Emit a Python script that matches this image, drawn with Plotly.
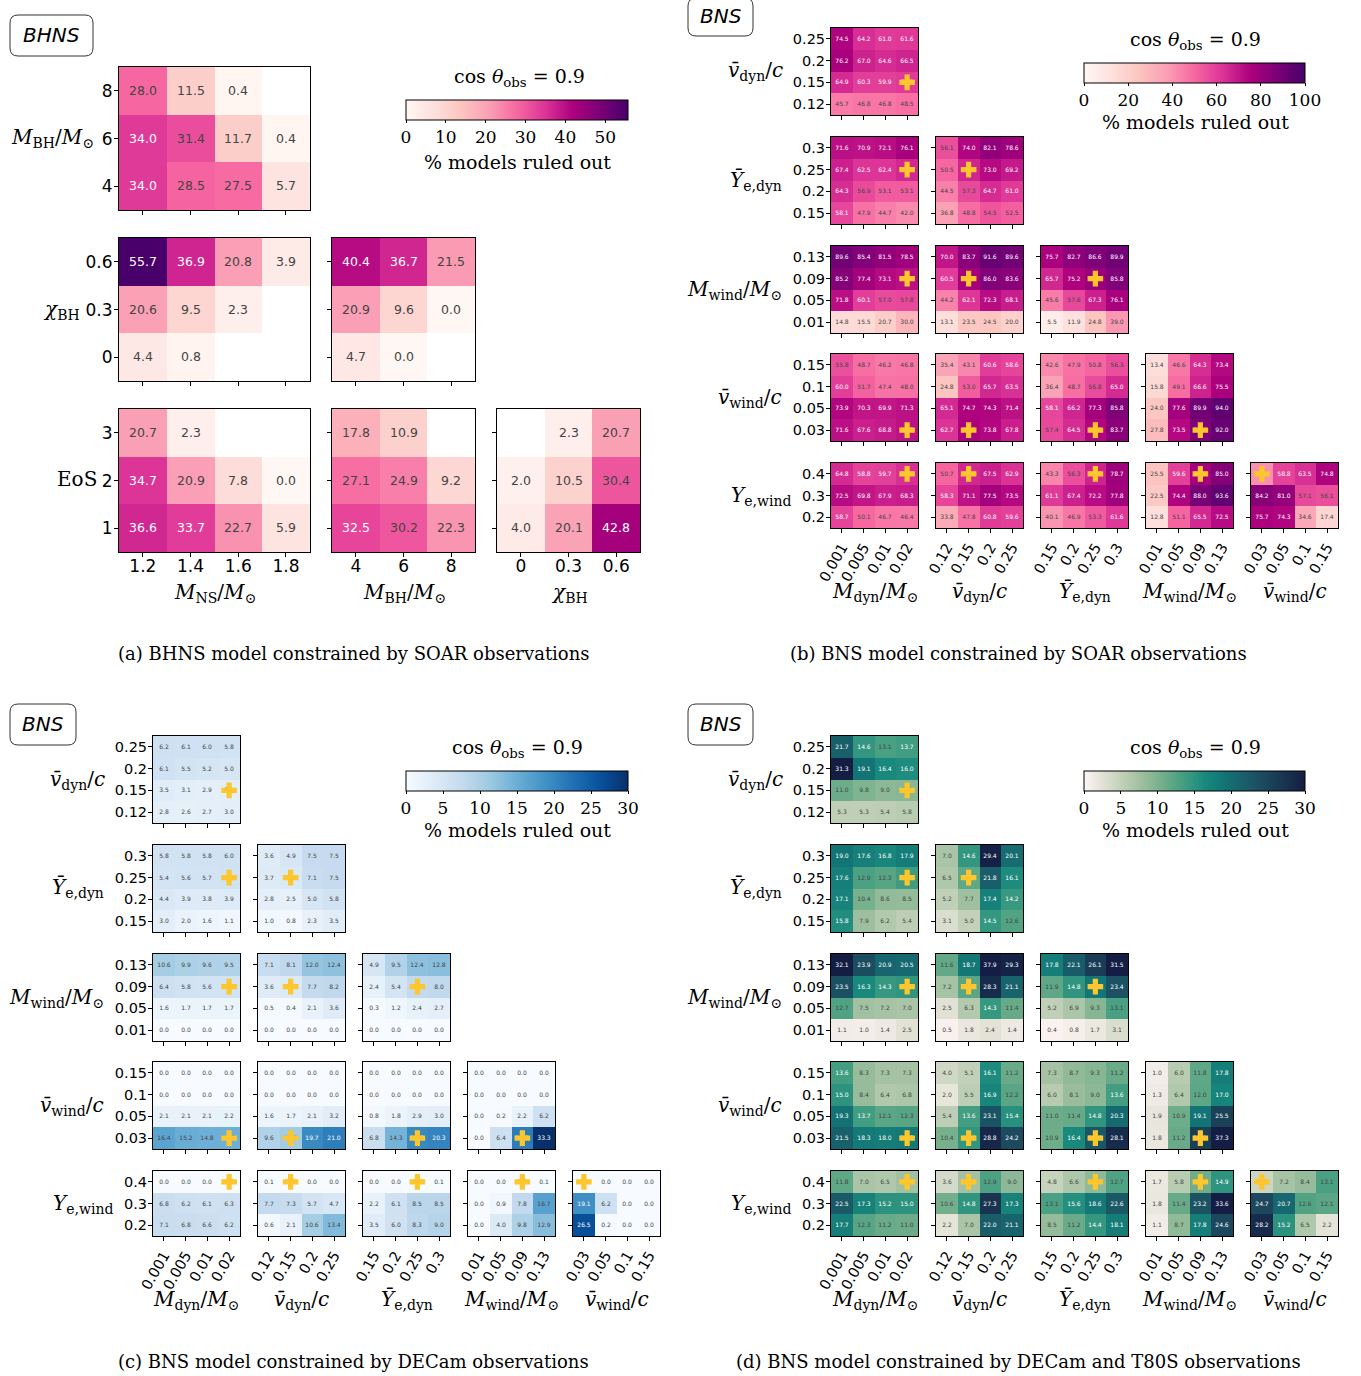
import plotly.graph_objects as go

W, H = 1361, 1376
N = None

# ---------------- Panel (a): BHNS, SOAR ----------------
A_MNS = ["1.2", "1.4", "1.6", "1.8"]
A_MBH = ["4", "6", "8"]
A_CHI = ["0", "0.3", "0.6"]
A_EOS = ["1", "2", "3"]
# matrices: first row = highest y value, columns left -> right
a_mbh_mns = [[28.0, 11.5, 0.4, N], [34.0, 31.4, 11.7, 0.4], [34.0, 28.5, 27.5, 5.7]]
a_chi_mns = [[55.7, 36.9, 20.8, 3.9], [20.6, 9.5, 2.3, N], [4.4, 0.8, N, N]]
a_chi_mbh = [[40.4, 36.7, 21.5], [20.9, 9.6, 0.0], [4.7, 0.0, N]]
a_eos_mns = [[20.7, 2.3, N, N], [34.7, 20.9, 7.8, 0.0], [36.6, 33.7, 22.7, 5.9]]
a_eos_mbh = [[17.8, 10.9, N], [27.1, 24.9, 9.2], [32.5, 30.2, 22.3]]
a_eos_chi = [[N, 2.3, 20.7], [2.0, 10.5, 30.4], [4.0, 20.1, 42.8]]

# ---------------- BNS parameter grids ----------------
T_MDYN = ["0.001", "0.005", "0.01", "0.02"]
T_VDYN = ["0.12", "0.15", "0.2", "0.25"]
T_YEDYN = ["0.15", "0.2", "0.25", "0.3"]
T_MWIND = ["0.01", "0.05", "0.09", "0.13"]
T_VWIND = ["0.03", "0.05", "0.1", "0.15"]
T_YEWIND = ["0.2", "0.3", "0.4"]
FIDUCIAL = ["0.02", "0.15", "0.25", "0.09", "0.03", "0.4"]

# ---------------- Panel (b): BNS, SOAR ----------------
b_vdyn_mdyn = [[74.5, 64.2, 61.0, 61.6], [76.2, 67.0, 64.6, 66.5], [64.9, 60.3, 59.9, 61.2], [45.7, 46.8, 46.8, 48.5]]
b_yedyn_mdyn = [[71.6, 70.9, 72.1, 76.1], [67.4, 62.5, 62.4, 65.7], [64.3, 56.9, 53.1, 53.1], [58.1, 47.9, 44.7, 42.0]]
b_yedyn_vdyn = [[56.1, 74.0, 82.1, 78.6], [50.5, 66.2, 73.0, 69.2], [44.5, 57.3, 64.7, 61.0], [36.8, 48.8, 54.5, 52.5]]
b_mwind_mdyn = [[89.6, 85.4, 81.5, 78.5], [85.2, 77.4, 73.1, 71.5], [71.8, 60.1, 57.0, 57.8], [14.8, 15.5, 20.7, 30.0]]
b_mwind_vdyn = [[70.0, 83.7, 91.6, 89.6], [60.5, 76.9, 86.0, 83.6], [44.2, 62.1, 72.3, 68.1], [13.1, 23.5, 24.5, 20.0]]
b_mwind_yedyn = [[75.7, 82.7, 86.6, 89.9], [65.7, 75.2, 80.4, 85.8], [45.6, 57.6, 67.3, 76.1], [5.5, 11.9, 24.8, 39.0]]
b_vwind_mdyn = [[55.8, 48.7, 46.2, 46.8], [60.0, 51.7, 47.4, 48.0], [73.9, 70.3, 69.9, 71.3], [71.6, 67.6, 68.8, 71.3]]
b_vwind_vdyn = [[35.4, 43.1, 60.6, 58.6], [24.8, 53.0, 65.7, 63.5], [65.1, 74.7, 74.3, 71.4], [62.7, 75.5, 73.8, 67.8]]
b_vwind_yedyn = [[42.6, 47.9, 50.8, 56.3], [36.4, 48.7, 56.8, 65.0], [58.1, 66.2, 77.3, 85.8], [57.4, 64.5, 74.0, 83.7]]
b_vwind_mwind = [[13.4, 46.6, 64.3, 73.4], [15.8, 49.1, 66.6, 75.5], [24.0, 77.6, 89.9, 94.0], [27.8, 73.5, 86.4, 92.0]]
b_yewind_mdyn = [[64.8, 58.8, 59.7, 63.7], [72.5, 69.8, 67.9, 68.3], [58.7, 50.1, 46.7, 46.4]]
b_yewind_vdyn = [[50.7, 65.7, 67.5, 62.9], [58.3, 71.1, 77.5, 73.5], [33.8, 47.8, 60.8, 59.6]]
b_yewind_yedyn = [[43.3, 56.3, 66.6, 78.7], [61.1, 67.4, 72.2, 77.8], [40.1, 46.9, 53.3, 61.6]]
b_yewind_mwind = [[25.5, 59.6, 76.9, 85.0], [22.5, 74.4, 88.0, 93.6], [12.8, 51.1, 65.5, 72.5]]
b_yewind_vwind = [[40.9, 58.8, 63.5, 74.8], [84.2, 81.0, 57.1, 56.1], [75.7, 74.3, 34.6, 17.4]]

# ---------------- Panel (c): BNS, DECam ----------------
c_vdyn_mdyn = [[6.2, 6.1, 6.0, 5.8], [6.1, 5.5, 5.2, 5.0], [3.5, 3.1, 2.9, 3.1], [2.8, 2.6, 2.7, 3.0]]
c_yedyn_mdyn = [[5.8, 5.8, 5.8, 6.0], [5.4, 5.6, 5.7, 5.8], [4.4, 3.9, 3.8, 3.9], [3.0, 2.0, 1.6, 1.1]]
c_yedyn_vdyn = [[3.6, 4.9, 7.5, 7.5], [3.7, 4.3, 7.1, 7.5], [2.8, 2.5, 5.0, 5.8], [1.0, 0.8, 2.3, 3.5]]
c_mwind_mdyn = [[10.6, 9.9, 9.6, 9.5], [6.4, 5.8, 5.6, 5.7], [1.6, 1.7, 1.7, 1.7], [0.0, 0.0, 0.0, 0.0]]
c_mwind_vdyn = [[7.1, 8.1, 12.0, 12.4], [3.6, 4.1, 7.7, 8.2], [0.5, 0.4, 2.1, 3.6], [0.0, 0.0, 0.0, 0.0]]
c_mwind_yedyn = [[4.9, 9.5, 12.4, 12.8], [2.4, 5.4, 7.8, 8.0], [0.3, 1.2, 2.4, 2.7], [0.0, 0.0, 0.0, 0.0]]
c_vwind_mdyn = [[0.0, 0.0, 0.0, 0.0], [0.0, 0.0, 0.0, 0.0], [2.1, 2.1, 2.1, 2.2], [16.4, 15.2, 14.8, 14.8]]
c_vwind_vdyn = [[0.0, 0.0, 0.0, 0.0], [0.0, 0.0, 0.0, 0.0], [1.6, 1.7, 2.1, 3.2], [9.6, 10.8, 19.7, 21.0]]
c_vwind_yedyn = [[0.0, 0.0, 0.0, 0.0], [0.0, 0.0, 0.0, 0.0], [0.8, 1.8, 2.9, 3.0], [6.8, 14.3, 19.8, 20.3]]
c_vwind_mwind = [[0.0, 0.0, 0.0, 0.0], [0.0, 0.0, 0.0, 0.0], [0.0, 0.2, 2.2, 6.2], [0.0, 6.4, 21.3, 33.3]]
c_yewind_mdyn = [[0.0, 0.0, 0.0, 0.1], [6.8, 6.2, 6.1, 6.3], [7.1, 6.8, 6.6, 6.2]]
c_yewind_vdyn = [[0.1, 0.0, 0.0, 0.0], [7.7, 7.3, 5.7, 4.7], [0.6, 2.1, 10.6, 13.4]]
c_yewind_yedyn = [[0.0, 0.0, 0.1, 0.1], [2.2, 6.1, 8.5, 8.5], [3.5, 6.0, 8.3, 9.0]]
c_yewind_mwind = [[0.0, 0.0, 0.0, 0.1], [0.0, 0.9, 7.8, 16.7], [0.0, 4.0, 9.8, 12.9]]
c_yewind_vwind = [[0.1, 0.0, 0.0, 0.0], [19.1, 6.2, 0.0, 0.0], [26.5, 0.2, 0.0, 0.0]]

# ---------------- Panel (d): BNS, DECam + T80S ----------------
d_vdyn_mdyn = [[21.7, 14.6, 13.1, 13.7], [31.3, 19.1, 16.4, 16.0], [11.0, 9.8, 9.0, 9.2], [5.3, 5.3, 5.4, 5.8]]
d_yedyn_mdyn = [[19.0, 17.6, 16.8, 17.9], [17.6, 12.9, 12.3, 13.8], [17.1, 10.4, 8.6, 8.5], [15.8, 7.9, 6.2, 5.4]]
d_yedyn_vdyn = [[7.0, 14.6, 29.4, 20.1], [6.5, 11.8, 21.8, 16.1], [5.2, 7.7, 17.4, 14.2], [3.1, 5.0, 14.5, 12.6]]
d_mwind_mdyn = [[32.1, 23.9, 20.9, 20.5], [23.5, 16.3, 14.3, 14.8], [12.7, 7.5, 7.2, 7.0], [1.1, 1.0, 1.4, 2.5]]
d_mwind_vdyn = [[11.6, 18.7, 37.9, 29.3], [7.2, 12.2, 28.3, 21.1], [2.5, 6.3, 14.3, 11.4], [0.5, 1.8, 2.4, 1.4]]
d_mwind_yedyn = [[17.8, 22.1, 26.1, 31.5], [11.9, 14.8, 18.8, 23.4], [5.2, 6.9, 9.3, 13.1], [0.4, 0.8, 1.7, 3.1]]
d_vwind_mdyn = [[13.6, 8.3, 7.3, 7.3], [15.0, 8.4, 6.4, 6.8], [19.3, 13.7, 12.1, 12.3], [21.5, 18.3, 18.0, 18.3]]
d_vwind_vdyn = [[4.0, 5.1, 16.1, 11.2], [2.0, 5.5, 16.9, 12.2], [5.4, 13.6, 23.1, 15.4], [10.4, 14.7, 28.8, 24.2]]
d_vwind_yedyn = [[7.3, 8.7, 9.3, 11.2], [6.0, 8.1, 9.0, 13.6], [11.0, 11.4, 14.8, 20.3], [10.9, 16.4, 22.7, 28.1]]
d_vwind_mwind = [[1.0, 6.0, 11.8, 17.8], [1.3, 6.4, 12.0, 17.0], [1.9, 10.9, 19.1, 25.5], [1.8, 11.2, 25.9, 37.3]]
d_yewind_mdyn = [[11.8, 7.0, 6.5, 7.5], [22.5, 17.3, 15.2, 15.0], [17.7, 12.3, 11.2, 11.0]]
d_yewind_vdyn = [[3.6, 7.4, 12.9, 9.0], [10.6, 14.8, 27.3, 17.3], [2.2, 7.0, 22.0, 21.1]]
d_yewind_yedyn = [[4.8, 6.6, 8.8, 12.7], [13.1, 15.6, 18.6, 22.6], [8.5, 11.2, 14.4, 18.1]]
d_yewind_mwind = [[1.7, 5.8, 10.8, 14.9], [1.8, 11.4, 23.2, 33.6], [1.1, 8.7, 17.8, 24.6]]
d_yewind_vwind = [[4.2, 7.2, 8.4, 13.1], [24.7, 20.7, 12.6, 12.1], [28.2, 15.2, 6.5, 2.2]]

# ---------------- helpers ----------------
SANS = "DejaVu Sans"
SERIF = "DejaVu Serif"

fig = go.Figure()
axes = {}
count = [0]


def fx(px):
    return px / W


def fy(py):
    return 1 - py / H


def add_block(z_top, xlabels, ylabels, x0, y0, cell, cax, tsize,
              show_x, show_y, tick_size, tickangle=0, plus=None, xstand=0):
    count[0] += 1
    n = count[0]
    nr, nc = len(z_top), len(z_top[0])
    z = z_top[::-1]
    text = [["" if v is None else f"{v:.1f}" for v in row] for row in z]
    xs = list(range(nc))
    ys = list(range(nr))
    xa = "x" if n == 1 else f"x{n}"
    ya = "y" if n == 1 else f"y{n}"
    fig.add_trace(go.Heatmap(
        z=z, x=xs, y=ys, text=text, texttemplate="%{text}",
        textfont=dict(size=tsize, family=SANS), coloraxis=cax,
        xaxis=xa, yaxis=ya, hoverinfo="skip"))
    if plus is not None:
        fig.add_trace(go.Scatter(
            x=[xlabels.index(plus[0])], y=[ylabels.index(plus[1])],
            mode="markers", marker=dict(symbol="cross", size=13, color="#fcc62c"),
            xaxis=xa, yaxis=ya, showlegend=False, hoverinfo="skip"))
    common = dict(showgrid=False, zeroline=False, showline=True, mirror=True,
                  linecolor="black", linewidth=1, ticks="outside", ticklen=4,
                  tickcolor="black", fixedrange=True, automargin=False,
                  tickfont=dict(family=SANS, size=tick_size, color="black"))
    sx = "" if n == 1 else str(n)
    axes["xaxis" + sx] = dict(domain=[fx(x0), fx(x0 + nc * cell)], anchor=ya,
                              range=[-0.5, nc - 0.5], tickvals=xs, ticktext=xlabels,
                              showticklabels=show_x, tickangle=tickangle,
                              ticklabelstandoff=xstand, **common)
    axes["yaxis" + sx] = dict(domain=[fy(y0 + nr * cell), fy(y0)], anchor=xa,
                              range=[-0.5, nr - 0.5], tickvals=ys, ticktext=ylabels,
                              showticklabels=show_y, ticklabelstandoff=-2, **common)


annotations = []
shapes = []


def ann(text, x, y, size, family=SERIF, xanchor="center", yanchor="middle"):
    annotations.append(dict(text=text, x=fx(x), y=fy(y), xref="paper", yref="paper",
                            showarrow=False, xanchor=xanchor, yanchor=yanchor,
                            font=dict(size=size, family=family, color="black")))


def rbox(x0, y0, x1, y1, r=8):
    rx, ry = r / W, r / H
    X0, X1, Y0, Y1 = fx(x0), fx(x1), fy(y1), fy(y0)
    path = (f"M{X0+rx},{Y0} L{X1-rx},{Y0} Q{X1},{Y0} {X1},{Y0+ry} "
            f"L{X1},{Y1-ry} Q{X1},{Y1} {X1-rx},{Y1} L{X0+rx},{Y1} "
            f"Q{X0},{Y1} {X0},{Y1-ry} L{X0},{Y0+ry} Q{X0},{Y0} {X0+rx},{Y0} Z")
    shapes.append(dict(type="path", path=path, xref="paper", yref="paper",
                       line=dict(color="#333333", width=1), fillcolor="white"))


# ---------------- Panel (a) ----------------
CA = 47.7
AX = [119, 332, 497]
AY = [67, 238, 409]
add_block(a_mbh_mns, A_MNS, A_MBH, AX[0], AY[0], CA, "coloraxis", 12.5, False, True, 17)
add_block(a_chi_mns, A_MNS, A_CHI, AX[0], AY[1], CA, "coloraxis", 12.5, False, True, 17)
add_block(a_chi_mbh, A_MBH, A_CHI, AX[1], AY[1], CA, "coloraxis", 12.5, False, False, 17)
add_block(a_eos_mns, A_MNS, A_EOS, AX[0], AY[2], CA, "coloraxis", 12.5, True, True, 17, xstand=-6)
add_block(a_eos_mbh, A_MBH, A_EOS, AX[1], AY[2], CA, "coloraxis", 12.5, True, False, 17, xstand=-6)
add_block(a_eos_chi, A_CHI, A_EOS, AX[2], AY[2], CA, "coloraxis", 12.5, True, False, 17, xstand=-6)

ann("<i>M</i><sub>BH</sub>/<i>M</i><sub>⊙</sub>", 52, 138, 20)
ann("<i>χ</i><sub>BH</sub>", 61, 310, 20)
ann("EoS", 77, 479, 20)
ann("<i>M</i><sub>NS</sub>/<i>M</i><sub>⊙</sub>", 215, 593, 20)
ann("<i>M</i><sub>BH</sub>/<i>M</i><sub>⊙</sub>", 404, 593, 20)
ann("<i>χ</i><sub>BH</sub>", 569, 593, 20)
ann("cos <i>θ</i><sub>obs</sub> = 0.9", 519, 78, 19)
ann("% models ruled out", 517, 162, 19)
rbox(10, 15, 93, 56)
ann("<i>BHNS</i>", 51, 35, 20, family=SANS)
ann("(a) BHNS model constrained by SOAR observations", 354, 653, 18)

# ---------------- BNS corner panels ----------------
TICKS = [T_MDYN, T_VDYN, T_YEDYN, T_MWIND, T_VWIND, T_YEWIND]
YTITLES = ["", "<i>v̄</i><sub>dyn</sub>/<i>c</i>", "<i>Ȳ</i><sub>e,dyn</sub>",
           "<i>M</i><sub>wind</sub>/<i>M</i><sub>⊙</sub>", "<i>v̄</i><sub>wind</sub>/<i>c</i>",
           "<i>Y</i><sub>e,wind</sub>"]
XTITLES = ["<i>M</i><sub>dyn</sub>/<i>M</i><sub>⊙</sub>", "<i>v̄</i><sub>dyn</sub>/<i>c</i>",
           "<i>Ȳ</i><sub>e,dyn</sub>", "<i>M</i><sub>wind</sub>/<i>M</i><sub>⊙</sub>",
           "<i>v̄</i><sub>wind</sub>/<i>c</i>"]
YT_X = [0, 77, 78, 56, 72, 83]

PANEL_B = [[b_vdyn_mdyn], [b_yedyn_mdyn, b_yedyn_vdyn],
           [b_mwind_mdyn, b_mwind_vdyn, b_mwind_yedyn],
           [b_vwind_mdyn, b_vwind_vdyn, b_vwind_yedyn, b_vwind_mwind],
           [b_yewind_mdyn, b_yewind_vdyn, b_yewind_yedyn, b_yewind_mwind, b_yewind_vwind]]
PANEL_C = [[c_vdyn_mdyn], [c_yedyn_mdyn, c_yedyn_vdyn],
           [c_mwind_mdyn, c_mwind_vdyn, c_mwind_yedyn],
           [c_vwind_mdyn, c_vwind_vdyn, c_vwind_yedyn, c_vwind_mwind],
           [c_yewind_mdyn, c_yewind_vdyn, c_yewind_yedyn, c_yewind_mwind, c_yewind_vwind]]
PANEL_D = [[d_vdyn_mdyn], [d_yedyn_mdyn, d_yedyn_vdyn],
           [d_mwind_mdyn, d_mwind_vdyn, d_mwind_yedyn],
           [d_vwind_mdyn, d_vwind_vdyn, d_vwind_yedyn, d_vwind_mwind],
           [d_yewind_mdyn, d_yewind_vdyn, d_yewind_yedyn, d_yewind_mwind, d_yewind_vwind]]

CB = 21.75
COLX = [153, 258, 363, 468, 573]
ROWY = [28, 137, 246, 354, 463]


def corner(mats, ox, oy, cax, cbar_title_x):
    for r in range(5):
        i = r + 1
        for j in range(i):
            add_block(mats[r][j], TICKS[j], TICKS[i], COLX[j] + ox, ROWY[r] + oy, CB,
                      cax, 6, r == 4, j == 0, 14.5, tickangle=-60,
                      plus=(FIDUCIAL[j], FIDUCIAL[i]))
        nrow = len(TICKS[i])
        ann(YTITLES[i], YT_X[i] + ox, ROWY[r] + oy + nrow * CB / 2, 20)
    for j in range(5):
        ann(XTITLES[j], COLX[j] + ox + 2 * CB, 592 + oy, 20)
    ann("cos <i>θ</i><sub>obs</sub> = 0.9", cbar_title_x, 40 + oy, 19)
    ann("% models ruled out", cbar_title_x, 122 + oy, 19)


# Panel (b)
corner(PANEL_B, 678, 0, "coloraxis2", 1195)
rbox(688, -2, 753, 36)
ann("<i>BNS</i>", 721, 16, 20, family=SANS)
ann("(b) BNS model constrained by SOAR observations", 1018, 653, 18)

# Panel (c)
corner(PANEL_C, 0, 708, "coloraxis3", 517)
rbox(10, 704, 76, 745)
ann("<i>BNS</i>", 43, 724, 20, family=SANS)
ann("(c) BNS model constrained by DECam observations", 353, 1361, 18)

# Panel (d)
corner(PANEL_D, 678, 708, "coloraxis4", 1195)
rbox(688, 704, 753, 745)
ann("<i>BNS</i>", 721, 724, 20, family=SANS)
ann("(d) BNS model constrained by DECam and T80S observations", 1018, 1361, 18)


def cbar(x0, x1, ytop, dtick):
    return dict(orientation="h", x=fx(x0), xanchor="left", y=fy(ytop), yanchor="top",
                len=x1 - x0, lenmode="pixels", thickness=20, thicknessmode="pixels",
                xpad=0, ypad=0, outlinewidth=1, outlinecolor="black",
                ticks="outside", ticklen=3, tickcolor="black", dtick=dtick, tick0=0,
                tickfont=dict(family=SERIF, size=17, color="black"))


layout = dict(
    width=W, height=H, margin=dict(l=0, r=0, t=0, b=0, pad=0, autoexpand=False),
    paper_bgcolor="white", plot_bgcolor="white", showlegend=False,
    coloraxis=dict(colorscale="RdPu", cmin=0, cmax=55.7, colorbar=cbar(406, 628, 100, 10)),
    coloraxis2=dict(colorscale="RdPu", cmin=0, cmax=100, colorbar=cbar(1084, 1305, 63, 20)),
    coloraxis3=dict(colorscale="Blues", cmin=0, cmax=30, colorbar=cbar(406, 628, 771, 5)),
    coloraxis4=dict(colorscale="tempo", cmin=0, cmax=30, colorbar=cbar(1084, 1305, 771, 5)),
    annotations=annotations, shapes=shapes,
)
layout.update(axes)
fig.update_layout(**layout)
fig.write_html("out.html", config={"displayModeBar": False},
               post_script="document.body.style.margin='0';")
